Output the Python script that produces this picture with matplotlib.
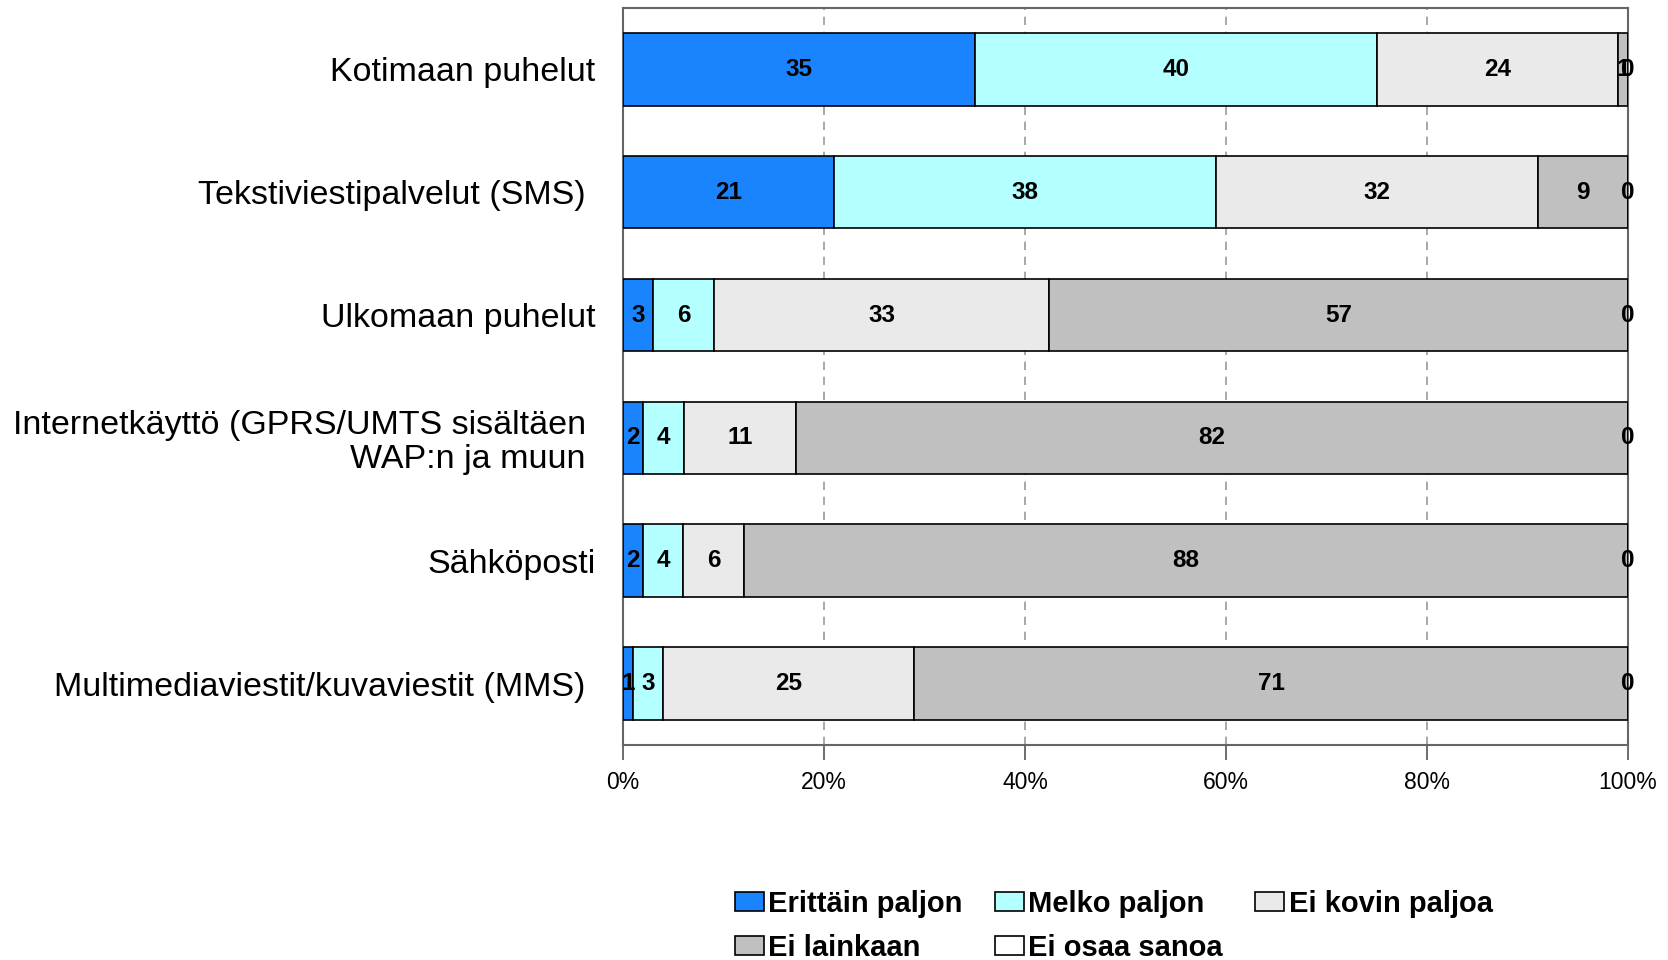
#!/usr/bin/env python3

import numpy as np
import matplotlib
matplotlib.use('Agg')
import matplotlib.pyplot as plt
from matplotlib.ticker import PercentFormatter

"""
100 % stacked horizontal bars: how much each mobile service is used.
"""

categories = ['Kotimaan puhelut',
              'Tekstiviestipalvelut (SMS) ',
              'Ulkomaan puhelut',
              'Internetkäyttö (GPRS/UMTS sisältäen \nWAP:n ja muun ',
              'Sähköposti',
              'Multimediaviestit/kuvaviestit (MMS) ']

series_names = ['Erittäin paljon', 'Melko paljon', 'Ei kovin paljoa',
                'Ei lainkaan', 'Ei osaa sanoa']

erittain = [35, 21, 3, 2, 2, 1]
melko = [40, 38, 6, 4, 4, 3]
ei_kovin = [24, 32, 33, 11, 6, 25]
ei_lainkaan = [1, 9, 57, 82, 88, 71]
ei_osaa = [0, 0, 0, 0, 0, 0]

colors = ['#1a84ff', '#b4ffff', '#eaeaea', '#c0c0c0', '#ffffff']

plt.rcParams['font.family'] = ['Liberation Sans', 'DejaVu Sans']

fig = plt.figure(figsize=(16.68, 9.6), dpi=100)
ax = fig.add_axes([0.3735, 0.224, 0.6025, 0.7677])

data = np.array([erittain, melko, ei_kovin, ei_lainkaan, ei_osaa], dtype=float)
totals = data.sum(axis=0)
shares = data / totals * 100  # chart is stacked to 100 %

y = np.arange(len(categories))
left = np.zeros(len(categories))
handles = []
for k, name in enumerate(series_names):
    bars = ax.barh(y, shares[k], left=left, height=0.59, color=colors[k],
                   edgecolor='black', linewidth=1.2, label=name, zorder=3)
    handles.append(bars)
    for i in range(len(categories)):
        xc = left[i] + shares[k][i] / 2
        ax.text(xc, y[i], '{0:d}'.format(int(data[k][i])), ha='center',
                va='center', fontsize=17.5, fontweight='bold', zorder=5)
    left += shares[k]

ax.set_ylim(len(categories) - 0.5, -0.5)
ax.set_xlim(0, 100)
ax.set_yticks(y)
ax.set_yticklabels(categories, fontsize=24.5, linespacing=1.1)
for lbl in ax.get_yticklabels():
    lbl.set_horizontalalignment('right')
ax.tick_params(axis='y', length=0, pad=20)
ax.set_xticks([0, 20, 40, 60, 80, 100])
ax.xaxis.set_major_formatter(PercentFormatter(decimals=0))
ax.tick_params(axis='x', length=11, width=1.2, color='#555555',
               labelsize=16.5, pad=8)

ax.grid(axis='x', color='#999999', linestyle=(0, (5, 4)), linewidth=1.2,
        zorder=0)
for s in ax.spines.values():
    s.set_color('#666666')
    s.set_linewidth(1.5)

# legend is filled row by row in the reference
order = [0, 3, 1, 4, 2]
leg = fig.legend(handles=[handles[i] for i in order],
                 labels=[series_names[i] for i in order],
                 loc='upper left', bbox_to_anchor=(0.4405, 0.073), ncol=3,
                 frameon=False,
                 prop={'family': ['Liberation Sans Narrow', 'Liberation Sans'],
                       'weight': 'bold', 'size': 21},
                 handlelength=1.0, handleheight=0.6, handletextpad=0.15,
                 columnspacing=1.1, labelspacing=0.55, borderaxespad=0,
                 borderpad=0)

fig.savefig('out.png', dpi=100)
